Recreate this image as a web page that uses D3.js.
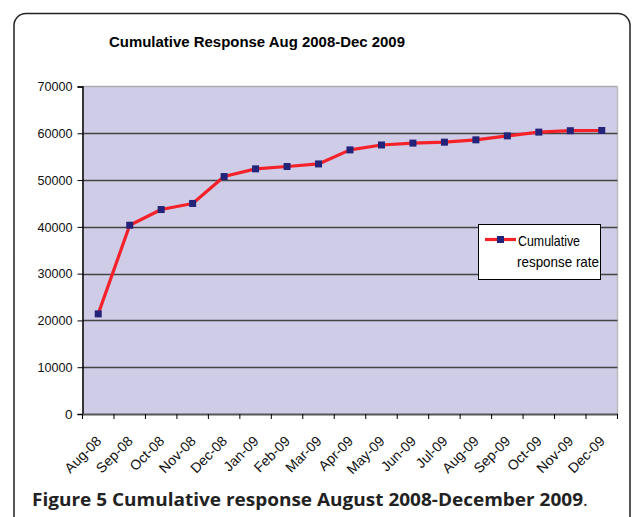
<!DOCTYPE html>
<html><head><meta charset="utf-8">
<script src="https://cdn.jsdelivr.net/npm/d3@7"></script>
<style>body{margin:0;background:#fff}svg{display:block}</style>
</head><body><svg id="c" width="635" height="517"></svg>
<script>
const months = ["Aug-08","Sep-08","Oct-08","Nov-08","Dec-08","Jan-09","Feb-09","Mar-09","Apr-09","May-09","Jun-09","Jul-09","Aug-09","Sep-09","Oct-09","Nov-09","Dec-09"];
const cumulative = [21400,40350,43700,45000,50750,52400,52900,53450,56450,57500,57900,58100,58600,59450,60250,60550,60600];
const yTicks = [0,10000,20000,30000,40000,50000,60000,70000];
const title = "Cumulative Response Aug 2008-Dec 2009";
const seriesName = ["Cumulative","response rate"];
const caption = "Figure 5 Cumulative response August 2008-December 2009";

const svg = d3.select("#c");
const L=82.5, R=617.5, T=86.5, B=414;
const x = d3.scaleBand().domain(months).range([L,R]);
const y = d3.scaleLinear().domain([0,70000]).range([B,T]);
const font = "'Liberation Sans', Arial, sans-serif";

// outer frame
svg.append("rect").attr("x",14).attr("y",13.5).attr("width",616).attr("height",540)
  .attr("rx",12).attr("fill","#fff").attr("stroke","#222").attr("stroke-width",1.5);

// title
svg.append("text").attr("x",109).attr("y",47).attr("font-family",font).attr("font-weight","bold")
  .attr("font-size",14.5).attr("fill","#000").attr("textLength",296).attr("lengthAdjust","spacingAndGlyphs").text(title);

// plot area
svg.append("rect").attr("x",L).attr("y",T).attr("width",R-L).attr("height",B-T).attr("fill","#CFCCE8");
svg.append("line").attr("x1",L).attr("x2",R).attr("y1",T).attr("y2",T).attr("stroke","#aaa").attr("stroke-width",1.5);
svg.append("line").attr("x1",R).attr("x2",R).attr("y1",T).attr("y2",B).attr("stroke","#bbb").attr("stroke-width",1.5);

// gridlines
svg.append("g").selectAll("line").data(yTicks.filter(d=>d>0&&d<70000)).join("line")
  .attr("x1",L).attr("x2",R).attr("y1",d=>Math.round(y(d))+0.5).attr("y2",d=>Math.round(y(d))+0.5)
  .attr("stroke","#444").attr("stroke-width",1.3);

// y axis
const ya = svg.append("g").attr("transform",`translate(${L},0)`)
  .call(d3.axisLeft(y).tickValues(yTicks).tickSize(5).tickPadding(5).tickFormat(d3.format("d")));
ya.select(".domain").attr("stroke","#000").attr("stroke-width",1.5);
ya.selectAll(".tick line").attr("stroke","#000");
ya.selectAll("text").attr("font-family",font).attr("font-size",13.5).attr("fill","#111")
  .attr("textLength",35).attr("lengthAdjust","spacingAndGlyphs");
ya.selectAll(".tick").filter(d=>d===0).select("text").attr("textLength",null);

// x axis
const xa = svg.append("g").attr("transform",`translate(0,${B})`)
  .call(d3.axisBottom(x).tickSize(0).tickFormat(""));
xa.select(".domain").attr("stroke","#555").attr("stroke-width",2);
svg.append("g").selectAll("line").data(months.concat(["_end"])).join("line")
  .attr("x1",(d,i)=>L+i*x.step()).attr("x2",(d,i)=>L+i*x.step())
  .attr("y1",B).attr("y2",B+5).attr("stroke","#000").attr("stroke-width",1);
svg.append("g").selectAll("text").data(months).join("text")
  .attr("transform",d=>`translate(${x(d)+x.bandwidth()/2+4},${B+28}) rotate(-45)`)
  .attr("text-anchor","end").attr("font-family",font).attr("font-size",14).attr("fill","#111").text(d=>d);

// line
const line = d3.line().x((d,i)=>x(months[i])+x.bandwidth()/2).y(d=>y(d));
svg.append("path").datum(cumulative).attr("d",line).attr("fill","none").attr("stroke","#F5222A")
  .attr("stroke-width",3.2).attr("stroke-linejoin","round");
svg.append("g").selectAll("rect").data(cumulative).join("rect")
  .attr("x",(d,i)=>x(months[i])+x.bandwidth()/2-3.5).attr("y",d=>y(d)-3.5)
  .attr("width",7).attr("height",7).attr("fill","#23237A");

// legend
const lg = svg.append("g");
lg.append("rect").attr("x",478.5).attr("y",224.5).attr("width",122).attr("height",55)
  .attr("fill","#fff").attr("stroke","#000").attr("stroke-width",1);
lg.append("line").attr("x1",485).attr("x2",516).attr("y1",239.5).attr("y2",239.5).attr("stroke","#F5222A").attr("stroke-width",3.2);
lg.append("rect").attr("x",497).attr("y",236).attr("width",7).attr("height",7).attr("fill","#23237A");
lg.append("text").attr("x",518).attr("y",246).attr("font-family",font).attr("font-size",15)
  .attr("textLength",62).attr("lengthAdjust","spacingAndGlyphs").text(seriesName[0]);
lg.append("text").attr("x",517).attr("y",267).attr("font-family",font).attr("font-size",15)
  .attr("textLength",82).attr("lengthAdjust","spacingAndGlyphs").text(seriesName[1]);

// caption
const cap = svg.append("text").attr("x",32).attr("y",506).attr("font-family","'Open Sans', 'Noto Sans', sans-serif")
  .attr("font-weight","bold").attr("font-size",18).attr("fill","#222");
cap.append("tspan").attr("textLength",551).attr("lengthAdjust","spacingAndGlyphs").text(caption);
cap.append("tspan").attr("font-weight","normal").text(".");
</script></body></html>
